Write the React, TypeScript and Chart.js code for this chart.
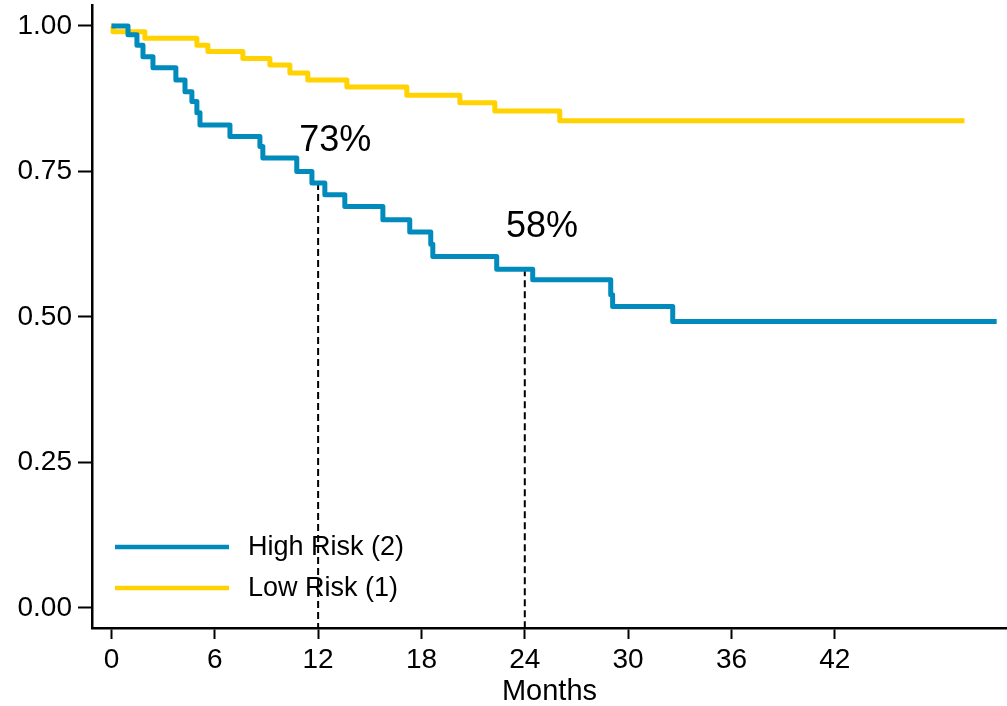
import React, { useEffect, useRef } from "react";
import { Chart, registerables } from "chart.js";

Chart.register(...registerables);

// Kaplan–Meier step data (time in months, survival probability)
const highRiskMonths = [0, 0.96, 1.48, 1.83, 2.41, 3.74, 4.27, 4.67, 4.96, 5.14, 6.88, 8.62, 8.79, 10.76, 11.64, 12.39, 13.55, 15.76, 17.32, 18.54, 18.66, 22.37, 24.46, 28.99, 29.1, 32.59, 51.4];
const highRiskSurvival = [1, 0.985, 0.967, 0.947, 0.928, 0.907, 0.887, 0.87, 0.851, 0.83, 0.81, 0.793, 0.773, 0.75, 0.73, 0.71, 0.69, 0.667, 0.646, 0.625, 0.604, 0.582, 0.564, 0.538, 0.518, 0.492, 0.492];

const lowRiskMonths = [0, 0.09, 1.94, 4.96, 5.6, 7.63, 9.2, 10.36, 11.4, 13.67, 17.15, 20.23, 22.26, 26.03, 49.53];
const lowRiskSurvival = [1, 0.99, 0.979, 0.967, 0.956, 0.944, 0.933, 0.919, 0.907, 0.895, 0.881, 0.868, 0.854, 0.837, 0.837];

const seriesLabels = ["High Risk (2)", "Low Risk (1)"];
const seriesColors = ["#008BBC", "#FFD200"];

const xTicks = [0, 6, 12, 18, 24, 30, 36, 42];
const yTicks = [0, 0.25, 0.5, 0.75, 1];
const landmarkMonths = [12, 24];

const FONT = '"Liberation Sans", Arial, sans-serif';

function toPoints(t: number[], s: number[]) {
  return t.map((x, i) => ({ x, y: s[i] }));
}

function survivalAt(t: number[], s: number[], m: number) {
  let v = s[0];
  for (let i = 0; i < t.length; i++) {
    if (t[i] <= m) v = s[i];
  }
  return v;
}

const landmarkPlugin = {
  id: "landmarks",
  beforeDatasetsDraw(chart: any) {
    const { ctx, scales, chartArea } = chart;
    const xs = scales.x;
    const ys = scales.y;
    ctx.save();
    ctx.strokeStyle = "#000";
    ctx.lineWidth = 2;
    ctx.setLineDash([7, 4]);
    landmarkMonths.forEach((m) => {
      const v = survivalAt(highRiskMonths, highRiskSurvival, m);
      const px = xs.getPixelForValue(m);
      ctx.beginPath();
      ctx.moveTo(px, ys.getPixelForValue(v));
      ctx.lineTo(px, chartArea.bottom);
      ctx.stroke();
    });
    ctx.restore();
  },
  afterDatasetsDraw(chart: any) {
    const { ctx, scales } = chart;
    const xs = scales.x;
    const ys = scales.y;
    ctx.save();
    ctx.fillStyle = "#000";
    ctx.font = `36px ${FONT}`;
    ctx.textAlign = "center";
    ctx.textBaseline = "middle";
    landmarkMonths.forEach((m) => {
      const v = survivalAt(highRiskMonths, highRiskSurvival, m);
      const px = xs.getPixelForValue(m + 1);
      const py = ys.getPixelForValue(v) - 42;
      ctx.fillText(`${Math.round(v * 100)}%`, px, py);
    });

    // legend inside the plot area, lower left
    const lx0 = 115;
    const lx1 = 229;
    const tx = 248;
    const rows = [547, 588];
    ctx.font = `27px ${FONT}`;
    ctx.textAlign = "left";
    ctx.setLineDash([]);
    seriesLabels.forEach((label, i) => {
      ctx.strokeStyle = seriesColors[i];
      ctx.lineWidth = 4.5;
      ctx.beginPath();
      ctx.moveTo(lx0, rows[i]);
      ctx.lineTo(lx1, rows[i]);
      ctx.stroke();
      ctx.fillStyle = "#000";
      ctx.fillText(label, tx, rows[i] + 1);
    });
    ctx.restore();
  },
};

export default function App() {
  const canvasRef = useRef<HTMLCanvasElement | null>(null);

  useEffect(() => {
    const canvas = canvasRef.current;
    if (!canvas) return;
    const chart = new Chart(canvas, {
      type: "line",
      data: {
        datasets: [
          {
            label: seriesLabels[0],
            data: toPoints(highRiskMonths, highRiskSurvival),
            borderColor: seriesColors[0],
            backgroundColor: seriesColors[0],
            borderWidth: 5,
            stepped: "before",
            pointRadius: 0,
            fill: false,
            borderJoinStyle: "round",
          },
          {
            label: seriesLabels[1],
            data: toPoints(lowRiskMonths, lowRiskSurvival),
            borderColor: seriesColors[1],
            backgroundColor: seriesColors[1],
            borderWidth: 5,
            stepped: "before",
            pointRadius: 0,
            fill: false,
            borderJoinStyle: "round",
          },
        ],
      },
      options: {
        animation: false,
        responsive: false,
        maintainAspectRatio: false,
        devicePixelRatio: 1,
        layout: { padding: { top: 5, right: 0, left: 0, bottom: 0 } },
        plugins: {
          legend: { display: false },
          tooltip: { enabled: false },
        },
        scales: {
          x: {
            type: "linear",
            min: -1.13,
            max: 52,
            afterBuildTicks: (scale: any) => {
              scale.ticks = xTicks.map((v) => ({ value: v }));
            },
            afterFit: (scale: any) => {
              scale.height = 78;
              scale.paddingLeft = 0;
              scale.paddingRight = 0;
            },
            grid: {
              display: true,
              drawOnChartArea: false,
              drawTicks: true,
              tickLength: 11,
              tickColor: "#000",
              tickWidth: 2,
              color: "#000",
            },
            border: { display: true, color: "#000", width: 2.5 },
            ticks: {
              color: "#000",
              font: { family: FONT, size: 28 },
              padding: 4,
              maxRotation: 0,
              autoSkip: false,
              callback: (v: any) => String(v),
            },
            title: {
              display: true,
              text: "Months",
              color: "#000",
              font: { family: FONT, size: 29, lineHeight: 1 },
              padding: 0,
            },
          },
          y: {
            type: "linear",
            min: -0.0344,
            max: 1.036,
            afterBuildTicks: (scale: any) => {
              scale.ticks = yTicks.map((v) => ({ value: v }));
            },
            afterFit: (scale: any) => {
              scale.width = 92;
              scale.paddingTop = 0;
              scale.paddingBottom = 0;
            },
            grid: {
              display: true,
              drawOnChartArea: false,
              drawTicks: true,
              tickLength: 14,
              tickColor: "#000",
              tickWidth: 2,
              color: "#000",
            },
            border: { display: true, color: "#000", width: 2.5 },
            ticks: {
              color: "#000",
              font: { family: FONT, size: 28 },
              padding: 6,
              autoSkip: false,
              callback: (v: any) => Number(v).toFixed(2),
            },
          },
        },
      },
      plugins: [landmarkPlugin],
    } as any);
    return () => chart.destroy();
  }, []);

  return (
    <div style={{ position: "fixed", left: 0, top: 0, width: 1007, height: 706, background: "#fff" }}>
      <canvas ref={canvasRef} width={1007} height={706} style={{ display: "block" }} />
    </div>
  );
}
